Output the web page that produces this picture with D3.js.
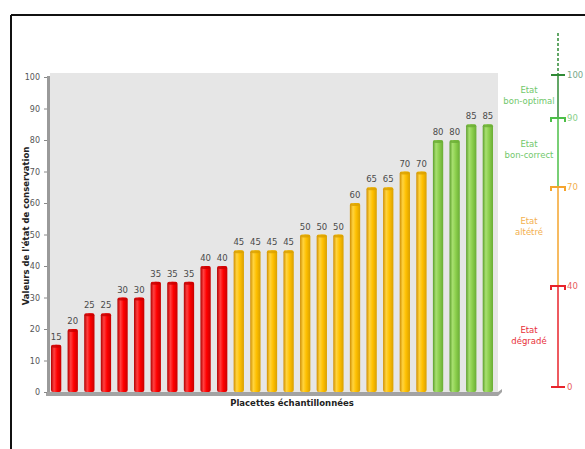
<!DOCTYPE html>
<html>
<head>
<meta charset="utf-8">
<script src="https://cdn.jsdelivr.net/npm/d3@7"></script>
<style>
  body { margin: 0; background: #fff; }
  svg { font-family: "DejaVu Sans", sans-serif; }
</style>
</head>
<body>
<div id="chart"></div>
<script>
// Etat de conservation par placette, avec l'échelle des états à droite.

const values = [15, 20, 25, 25, 30, 30, 35, 35, 35, 40, 40,
    45, 45, 45, 45, 50, 50, 50, 60, 65, 65, 70, 70,
    80, 80, 85, 85];
const placettes = values.map((v, i) => "P" + (i + 1));
const yTicks = [0, 10, 20, 30, 40, 50, 60, 70, 80, 90, 100];

// échelle des états (bornes et libellés)
const stateBounds = [0, 40, 70, 90, 100];
const stateNames = [["Etat", "dégradé"], ["Etat", "altétré"],
    ["Etat", "bon-correct"], ["Etat", "bon-optimal"]];

const W = 585, H = 449;
const PLOT = { left: 50, right: 498, top: 73, bottom: 392 };

const svg = d3.select("#chart").append("svg")
    .attr("width", W)
    .attr("height", H);

// gradients "cylindre"
const palette = {
    red: ["#b00000", "#ff4040", "#ff0000", "#c80000"],
    yellow: ["#d08e00", "#ffd440", "#ffc000", "#d9a000"],
    green: ["#5c9e2c", "#a8e070", "#8ccf4d", "#6aad35"],
};
const defs = svg.append("defs");
Object.entries(palette).forEach(([name, c]) => {
    const g = defs.append("linearGradient").attr("id", "g-" + name)
        .attr("x1", 0).attr("x2", 1).attr("y1", 0).attr("y2", 0);
    [[0, c[0]], [0.3, c[1]], [0.6, c[2]], [1, c[3]]].forEach(([o, col]) =>
        g.append("stop").attr("offset", o).attr("stop-color", col));
});
function colorName(v) {
    if (v <= stateBounds[1]) return "red";
    if (v <= stateBounds[2]) return "yellow";
    return "green";
}

// cadre
svg.append("line").attr("x1", 11).attr("x2", W).attr("y1", 15).attr("y2", 15)
    .attr("stroke", "#111").attr("stroke-width", 2);
svg.append("line").attr("x1", 11).attr("x2", 11).attr("y1", 15).attr("y2", H)
    .attr("stroke", "#111").attr("stroke-width", 2);

const y = d3.scaleLinear().domain([0, 100]).range([PLOT.bottom, 77]);
const x = d3.scaleBand().domain(placettes)
    .range([PLOT.left - 1, PLOT.right - 3]).paddingInner(0.38).paddingOuter(0.12);

// fond
svg.append("rect")
    .attr("x", PLOT.left).attr("y", PLOT.top)
    .attr("width", PLOT.right - PLOT.left).attr("height", PLOT.bottom - PLOT.top)
    .attr("fill", "#e6e6e6");

// mur gauche et sol
svg.append("rect").attr("x", 47).attr("y", 76).attr("width", 3).attr("height", 320)
    .attr("fill", "#9a9a9a");
svg.append("path")
    .attr("d", `M46,${PLOT.bottom} L${PLOT.right},${PLOT.bottom} L${PLOT.right + 4},${PLOT.bottom - 3} L${PLOT.right + 4},${PLOT.bottom} L${PLOT.right},${PLOT.bottom + 4} L46,${PLOT.bottom + 4} Z`)
    .attr("fill", "#a3a3a3");

// axe y
const yAxis = svg.append("g")
    .attr("transform", "translate(47,0)")
    .call(d3.axisLeft(y).tickValues(yTicks).tickSize(3).tickPadding(4));
yAxis.select(".domain").remove();
yAxis.selectAll("line").attr("stroke", "#888");
yAxis.selectAll("text").attr("fill", "#555").style("font-size", "8px")
    .style("font-family", "'DejaVu Sans', sans-serif");

svg.append("text")
    .attr("transform", "translate(29,226) rotate(-90)")
    .attr("text-anchor", "middle")
    .style("font-size", "8.5px").style("font-weight", "bold").attr("fill", "#222")
    .text("Valeurs de l'état de conservation");

svg.append("text")
    .attr("x", 292).attr("y", 406)
    .attr("text-anchor", "middle")
    .style("font-size", "8.5px").style("font-weight", "bold").attr("fill", "#222")
    .text("Placettes échantillonnées");

// barres
const bars = svg.append("g").selectAll("g")
    .data(values.map((v, i) => ({ id: placettes[i], v })))
    .join("g");

bars.append("rect")
    .attr("x", d => x(d.id))
    .attr("y", d => y(d.v))
    .attr("width", x.bandwidth())
    .attr("height", d => y(0) - y(d.v))
    .attr("rx", 2)
    .attr("fill", d => `url(#g-${colorName(d.v)})`);

bars.append("ellipse")
    .attr("cx", d => x(d.id) + x.bandwidth() / 2)
    .attr("cy", d => y(d.v) + 1.5)
    .attr("rx", x.bandwidth() / 2 - 0.5)
    .attr("ry", 1.5)
    .attr("fill", d => palette[colorName(d.v)][3])
    .attr("opacity", 0.8);

bars.append("text")
    .attr("x", d => x(d.id) + x.bandwidth() / 2)
    .attr("y", d => y(d.v) - 5)
    .attr("text-anchor", "middle")
    .style("font-size", "8.5px").attr("fill", "#4a4a4a")
    .text(d => d.v);

// échelle des états
const s = d3.scaleLinear().domain(stateBounds).range([387, 286, 187, 118, 75]);
const SX = 558;
const segColors = ["#e8232b", "#f5a42c", "#4cbf48", "#2f8a35"];
const txtColors = ["#e8303a", "#f3b04e", "#72c86c", "#72c86c"];
const nudge = [0, -9, -2, 0];
const tickColors = ["#e8232b", "#e8232b", "#f5a42c", "#4cbf48", "#2f8a35"];
const tickTxt = ["#e86060", "#e86060", "#f3b04e", "#8ad08a", "#7aa88a"];

svg.append("line")
    .attr("x1", SX).attr("x2", SX).attr("y1", 33).attr("y2", s(100))
    .attr("stroke", "#2f8a35").attr("stroke-width", 1.5).attr("stroke-dasharray", "3,2");

stateNames.forEach((name, i) => {
    svg.append("line")
        .attr("x1", SX).attr("x2", SX)
        .attr("y1", s(stateBounds[i])).attr("y2", s(stateBounds[i + 1]))
        .attr("stroke", segColors[i]).attr("stroke-width", 1.5);
    const mid = (s(stateBounds[i]) + s(stateBounds[i + 1])) / 2 + nudge[i];
    const t = svg.append("text")
        .attr("text-anchor", "middle")
        .style("font-size", "8.5px").attr("fill", txtColors[i]);
    name.forEach((line, j) => t.append("tspan")
        .attr("x", 529).attr("y", mid - 4 + j * 11).text(line));
});

stateBounds.forEach((b, i) => {
    const yy = s(b);
    const bracket = i > 0 && i < stateBounds.length - 1;
    svg.append("path")
        .attr("d", bracket
            ? `M${SX - 7},${yy + 4} L${SX - 7},${yy} L${SX + 7},${yy} L${SX + 7},${yy + 4}`
            : `M${SX - 7},${yy} L${SX + 7},${yy}`)
        .attr("fill", "none")
        .attr("stroke", tickColors[i]).attr("stroke-width", 2);
    svg.append("text")
        .attr("x", SX + 9).attr("y", yy + 3)
        .style("font-size", "8.5px").attr("fill", tickTxt[i])
        .text(b);
});
</script>
</body>
</html>
